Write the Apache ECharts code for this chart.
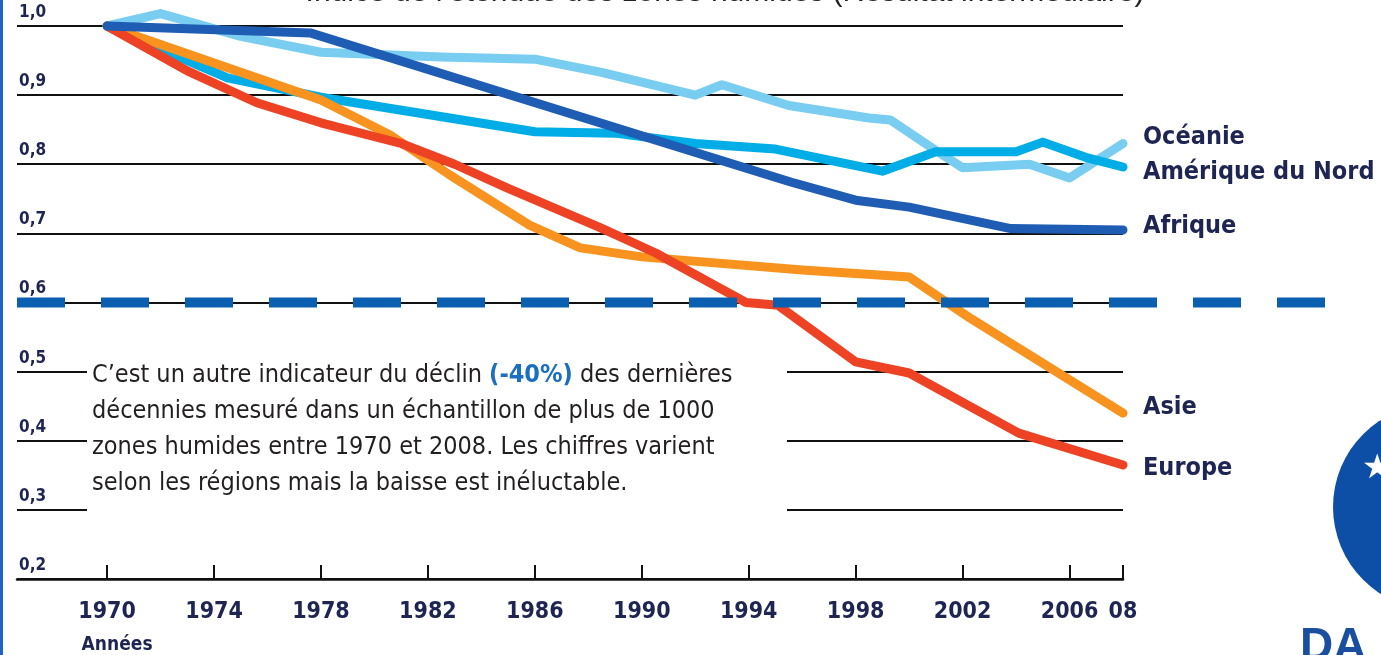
<!DOCTYPE html>
<html><head><meta charset="utf-8">
<script src="https://cdn.jsdelivr.net/npm/echarts@6/dist/echarts.min.js"></script>
<style>html,body{margin:0;padding:0;background:#fff}#c{width:1381px;height:655px}</style>
</head><body><div id="c"></div>
<script>
// ---- data ----
const xTicks = [1970,1974,1978,1982,1986,1990,1994,1998,2002,2006,2008];
const seriesNames = ['Océanie','Amérique du Nord','Afrique','Asie','Europe'];
const oceania = [[1970,1.00],[1972,1.018],[1975,0.985],[1978,0.962],[1982.5,0.955],[1986,0.952],[1988.5,0.933],[1992,0.90],[1993,0.915],[1995.5,0.885],[1998.5,0.867],[1999.3,0.864],[2001,0.82],[2002,0.795],[2004.5,0.80],[2006,0.78],[2008,0.83]];
const northAmerica = [[1970,1.00],[1974.5,0.925],[1978,0.897],[1982,0.872],[1986,0.847],[1989,0.845],[1992,0.83],[1995,0.822],[1999,0.79],[2001,0.818],[2004,0.818],[2005,0.832],[2006.6,0.81],[2008,0.796]];
const africa = [[1970,1.00],[1977.6,0.99],[1995.6,0.774],[1998,0.748],[2000,0.738],[2003.8,0.707],[2008,0.705]];
const asia = [[1970,1.00],[1978,0.893],[1980.6,0.842],[1982.8,0.785],[1985.8,0.712],[1987.7,0.679],[1990,0.666],[1996,0.647],[2000,0.637],[2002.3,0.577],[2008,0.44]];
const europe = [[1970,1.00],[1973,0.935],[1975.6,0.889],[1978,0.86],[1981,0.83],[1983,0.80],[1985,0.765],[1988.4,0.709],[1990.5,0.672],[1993.9,0.60],[1995.1,0.596],[1998,0.514],[2000,0.498],[2004.1,0.411],[2008,0.365]];
const thresholdValue = 0.6;
const yMin = 0.2, yMax = 1.0, yStep = 0.1;
const noteText = "C\u2019est un autre indicateur du déclin {b|(-40%)} des dernières\ndécennies mesuré dans un échantillon de plus de 1000\nzones humides entre 1970 et 2008. Les chiffres varient\nselon les régions mais la baisse est inéluctable.";
const titleText = "Indice de l\u2019étendue des zones humides (Résultat intermédiaire)";

// ---- styles ----
const NARROW = '"Liberation Sans Narrow","DejaVu Sans Condensed","Arial Narrow",sans-serif';
const NAVY = '#1f2552';
const colors = {
  'Océanie': '#78cdf0',
  'Amérique du Nord': '#00ade6',
  'Afrique': '#1f5db4',
  'Asie': '#f7931e',
  'Europe': '#ee4224'
};
const labelOffsets = {'Océanie': -6, 'Amérique du Nord': 5, 'Afrique': -3, 'Asie': -6, 'Europe': 4};
const seriesData = {'Océanie': oceania, 'Amérique du Nord': northAmerica, 'Afrique': africa, 'Asie': asia, 'Europe': europe};
const drawOrder = ['Océanie','Amérique du Nord','Asie','Europe','Afrique'];

function lineSeries(name, z) {
  return {
    name, type: 'line', xAxisIndex: 0, yAxisIndex: 0,
    data: seriesData[name], symbol: 'none', clip: false, z,
    lineStyle: {color: colors[name], width: 9, cap: 'round', join: 'round'},
    endLabel: {
      show: true, formatter: name, distance: 20, offset: [0, labelOffsets[name]],
      fontFamily: NARROW, fontWeight: 'bold', fontSize: 25, color: NAVY
    },
    emphasis: {disabled: true}, silent: true
  };
}

const chart = echarts.init(document.getElementById('c'), null, {renderer: 'canvas'});
chart.setOption({
  animation: false,
  backgroundColor: '#fff',
  grid: [
    {left: 17, right: 258, top: 26, bottom: 76, outerBoundsMode: 'none', containLabel: false},
    {left: 17, right: 54, top: 26, bottom: 76, outerBoundsMode: 'none', containLabel: false}
  ],
  xAxis: [
    {
      type: 'value', gridIndex: 0, min: 1966.63, max: 2008,
      axisLine: {lineStyle: {color: '#111', width: 2.5}},
      axisTick: {show: true, inside: true, length: 14, customValues: xTicks, lineStyle: {color: '#111', width: 2}},
      axisLabel: {
        customValues: xTicks, margin: 17, showMaxLabel: true, showMinLabel: true, hideOverlap: false,
        fontFamily: NARROW, fontWeight: 'bold', fontSize: 23, color: NAVY, lineHeight: 32,
        formatter: v => v === 1970 ? '1970\n{s|Années}' : (v === 2008 ? '08' : String(v)),
        rich: {s: {fontFamily: NARROW, fontWeight: 'bold', fontSize: 19, color: NAVY, lineHeight: 34, padding: [0, 0, 0, 20]}}
      },
      splitLine: {show: false}
    },
    {type: 'value', gridIndex: 1, min: 0, max: 1, show: false}
  ],
  yAxis: [
    {
      type: 'value', gridIndex: 0, min: yMin, max: yMax, interval: yStep,
      axisLine: {show: false}, axisTick: {show: false},
      splitLine: {show: true, lineStyle: {color: '#111', width: 2}},
      axisLabel: {
        inside: true, margin: 2, verticalAlign: 'bottom', padding: [0, 0, 5, 0],
        showMaxLabel: true, showMinLabel: true,
        fontFamily: NARROW, fontWeight: 'bold', fontSize: 17, color: NAVY,
        formatter: v => v.toFixed(1).replace('.', ',')
      }
    },
    {type: 'value', gridIndex: 1, min: yMin, max: yMax, show: false}
  ],
  series: drawOrder.map((n, i) => lineSeries(n, 2 + i)).concat([{
    name: 'seuil', type: 'line', xAxisIndex: 1, yAxisIndex: 1, z: 20,
    data: [[0, thresholdValue], [1, thresholdValue]], symbol: 'none', silent: true,
    lineStyle: {color: '#0a5fb0', width: 10, type: [48, 36], cap: 'butt'}
  }]),
  graphic: [
    {type: 'rect', left: 0, top: 0, shape: {width: 3, height: 655}, style: {fill: '#1a66c2'}, z: 100},
    {type: 'text', x: 725, y: 8, style: {text: titleText, fontSize: 30, fontFamily: '"Liberation Sans",Arial,sans-serif', fill: '#222', align: 'center', verticalAlign: 'bottom'}, z: 100},
    {type: 'rect', shape: {x: 87, y: 350, width: 700, height: 162}, style: {fill: '#fff'}, z: 50},
    {type: 'text', x: 92, y: 357, z: 51, style: {
      text: noteText, fontSize: 25, lineHeight: 36, fontFamily: NARROW, fill: '#231f20',
      rich: {b: {fontSize: 25, lineHeight: 36, fontFamily: NARROW, fontWeight: 'bold', fill: '#1a6fc0'}}
    }},
    {type: 'circle', shape: {cx: 1436, cy: 507, r: 103}, style: {fill: '#0d4fa6'}, z: 50},
    {type: 'text', x: 1362, y: 452, z: 51, style: {text: '\u2605', fontSize: 34, fill: '#fff', fontFamily: '"DejaVu Sans",sans-serif'}},
    {type: 'text', x: 1300, y: 624, z: 51, style: {text: 'DA', fontSize: 46, fontWeight: 'bold', fill: '#1a4fa0', fontFamily: '"Liberation Sans",Arial,sans-serif'}}
  ]
});
</script>
</body></html>
